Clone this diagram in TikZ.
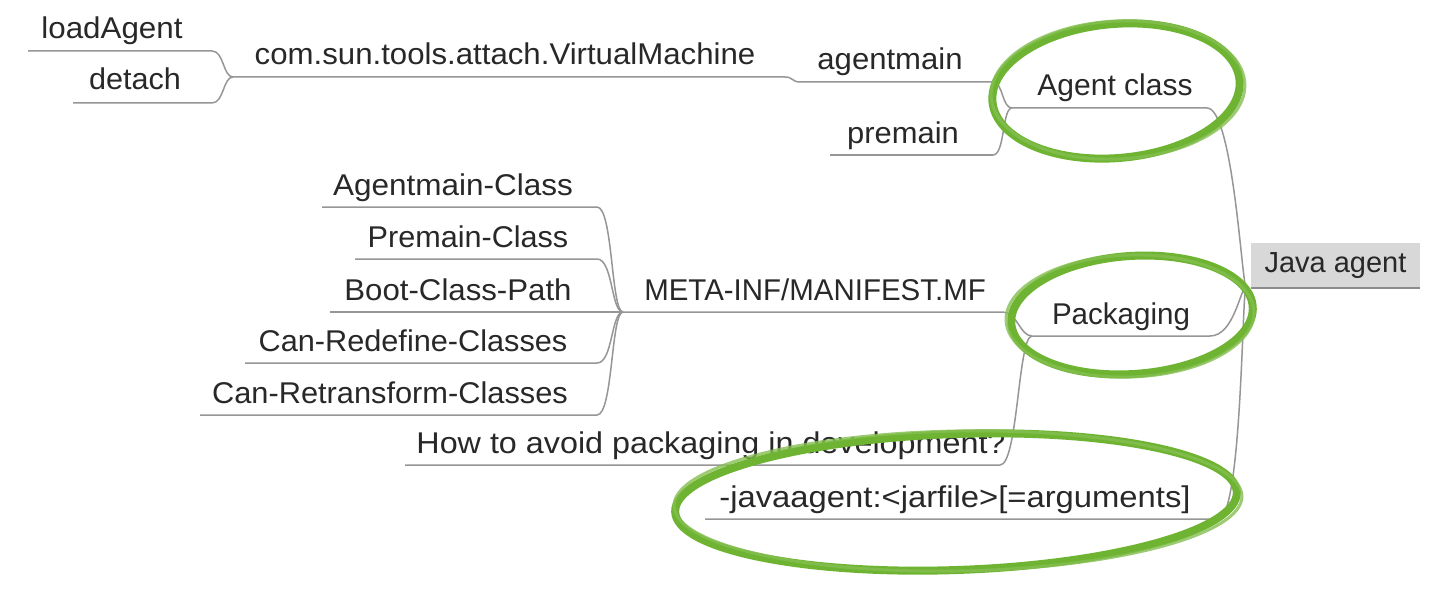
\documentclass[tikz,border=0pt]{standalone}
\usepackage{fontspec}
\usepackage{graphicx}
\setmainfont{Liberation Sans}
\definecolor{markgreen}{RGB}{110,180,50}
\definecolor{inkgray}{RGB}{40,40,40}
\definecolor{linkgray}{RGB}{150,150,150}
\definecolor{rootfill}{RGB}{216,216,216}
\newcommand\hstretch[2]{\scalebox{#1}[1]{#2}}
\begin{document}
\begin{tikzpicture}[x=1pt,y=-1pt,
  topic/.style={anchor=base, inner sep=0pt, text=inkgray, font=\fontsize{30}{36}\selectfont},
  link/.style={draw=linkgray, line width=1.5pt},
  rootbox/.style={fill=rootfill, minimum width=169pt, minimum height=45pt, inner sep=0pt, text=inkgray, font=\fontsize{29}{36}\selectfont},
  marker/.style={draw=markgreen, line width=8pt},
  markerthin/.style={draw=markgreen!85!white, line width=3pt, opacity=0.8}]
\useasboundingbox (0,0) rectangle (1440,607);
\fill[white] (0,0) rectangle (1440,607);

% topics
\node[topic] (load) at (112,39) {\hstretch{1.045}{loadAgent}};
\node[topic] (detach) at (135,90) {\hstretch{1.02}{detach}};
\node[topic] (vm) at (505,65) {\hstretch{1.04}{com.sun.tools.attach.VirtualMachine}};
\node[topic] (amain) at (890,70) {\hstretch{1.036}{agentmain}};
\node[topic] (pmain) at (903,143) {\hstretch{1.03}{premain}};
\node[topic] (aclass) at (1115,96) {Agent class};
\node[rootbox] (root) at (1335.5,265.5) {Java agent};
\draw[draw=black!45, line width=1.5pt] (root.south west) -- (root.south east);
\node[topic] (manifest) at (815,300) {\hstretch{0.982}{META-INF/MANIFEST.MF}};
\node[topic] (amc) at (453,195) {\hstretch{1.05}{Agentmain-Class}};
\node[topic] (pmc) at (468,247) {\hstretch{1.02}{Premain-Class}};
\node[topic] (bcp) at (458,300) {\hstretch{1.04}{Boot-Class-Path}};
\node[topic] (crd) at (413,351) {\hstretch{1.023}{Can-Redefine-Classes}};
\node[topic] (crt) at (390,403) {\hstretch{1.026}{Can-Retransform-Classes}};
\node[topic] (pack) at (1121,324) {\hstretch{0.985}{Packaging}};
\node[topic] (avoid) at (711,453) {\hstretch{1.077}{How to avoid packaging in development?}};
\node[topic] (jarg) at (955,507) {\hstretch{1.093}{-javaagent:<jarfile>[=arguments]}};

% underline end points
\coordinate (loadL) at (28,51);    \coordinate (loadR) at (212,51);
\coordinate (detachL) at (73,103); \coordinate (detachR) at (212,103);
\coordinate (vmL) at (233,77);     \coordinate (vmR) at (785,77);
\coordinate (amainL) at (800,82);  \coordinate (amainR) at (993,82);
\coordinate (pmainL) at (830,155); \coordinate (pmainR) at (993,155);
\coordinate (aclassL) at (1012,108); \coordinate (aclassR) at (1207,108);
\coordinate (J) at (1246,287);
\coordinate (manL) at (623,312);   \coordinate (manR) at (1003,312);
\coordinate (amcL) at (322,207);   \coordinate (amcR) at (597,207);
\coordinate (pmcL) at (355,259);   \coordinate (pmcR) at (597,259);
\coordinate (bcpL) at (330,312);
\coordinate (crdL) at (245,363);   \coordinate (crdR) at (597,363);
\coordinate (crtL) at (200,415);   \coordinate (crtR) at (597,415);
\coordinate (packL) at (1032,336); \coordinate (packR) at (1210,336);
\coordinate (avoidL) at (405,465); \coordinate (avoidR) at (1000,465);
\coordinate (jargL) at (705,519);  \coordinate (jargR) at (1218,519);

% connectors
\draw[link] (loadL) -- (loadR) .. controls +(12,0) and +(-10,0) .. (vmL);
\draw[link] (detachL) -- (detachR) .. controls +(12,0) and +(-10,0) .. (vmL);
\draw[link] (vmL) -- (vmR) .. controls +(8,0) and +(-8,0) .. (amainL);
\draw[link] (amainL) -- (amainR) .. controls +(10,0) and +(-10,0) .. (aclassL);
\draw[link] (pmainL) -- (pmainR) .. controls +(12,0) and +(-10,0) .. (aclassL);
\draw[link] (aclassL) -- (aclassR) .. controls +(26,0) and +(-4,-2) .. (J);
\draw[link] (amcL) -- (amcR) .. controls +(16,0) and +(-12,0) .. (manL);
\draw[link] (pmcL) -- (pmcR) .. controls +(16,0) and +(-12,0) .. (manL);
\draw[link] (bcpL) -- (manL);
\draw[link] (crdL) -- (crdR) .. controls +(16,0) and +(-12,0) .. (manL);
\draw[link] (crtL) -- (crtR) .. controls +(16,0) and +(-12,0) .. (manL);
\draw[link] (manL) -- (manR) .. controls +(14,0) and +(-12,0) .. (packL);
\draw[link] (avoidL) -- (avoidR) .. controls +(18,0) and +(-14,0) .. (packL);
\draw[link] (packL) -- (packR) .. controls +(24,0) and +(-6,2) .. (J);
\draw[link] (jargL) -- (jargR) .. controls +(24,0) and +(-4,2) .. (J);

% marker ellipses
\draw[marker] (1116,91) ellipse [x radius=124, y radius=67, rotate=5];
\draw[markerthin] (1118,90) ellipse [x radius=127, y radius=69, rotate=3];
\draw[marker] (1132,315) ellipse [x radius=121, y radius=59, rotate=4];
\draw[markerthin] (1130,316) ellipse [x radius=124, y radius=61, rotate=2];
\draw[marker] (956,502) ellipse [x radius=281, y radius=68, rotate=2];
\draw[markerthin] (958,501) ellipse [x radius=284, y radius=70, rotate=1];
\end{tikzpicture}
\end{document}
